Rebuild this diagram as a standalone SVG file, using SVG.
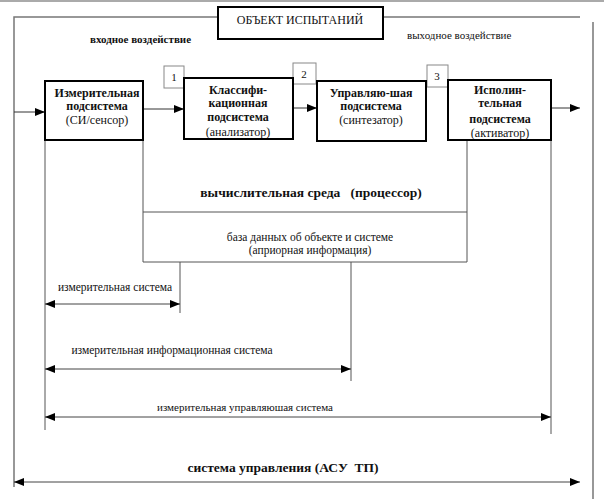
<svg xmlns="http://www.w3.org/2000/svg" width="604" height="499" viewBox="0 0 604 499">
<style>
text{font-family:"Liberation Serif","Times New Roman",serif;fill:#111}
.b{font-weight:bold}
.c{text-anchor:middle}
.blk{fill:#fff;stroke:#000;stroke-width:2}
.num{fill:#fff;stroke:#888;stroke-width:1}
.frame{fill:none;stroke:#777;stroke-width:1.5}
.ln{fill:none;stroke:#555;stroke-width:1}
.arr{fill:none;stroke:#333;stroke-width:1;marker-end:url(#ah)}
.dim{fill:none;stroke:#444;stroke-width:1;marker-start:url(#ah2);marker-end:url(#ah)}
</style>
<defs>
<marker id="ah" viewBox="0 0 10 10" refX="10" refY="5" markerWidth="10" markerHeight="10" markerUnits="userSpaceOnUse" orient="auto"><path d="M0,1 L10,5 L0,9 Z" fill="#000"/></marker>
<marker id="ah2" viewBox="0 0 10 10" refX="0" refY="5" markerWidth="10" markerHeight="10" markerUnits="userSpaceOnUse" orient="auto"><path d="M10,1 L0,5 L10,9 Z" fill="#000"/></marker>
<clipPath id="c2"><rect x="184" y="78" width="109" height="60"/></clipPath>
<clipPath id="c4"><rect x="448" y="80" width="103" height="59"/></clipPath>
</defs>
<rect x="0" y="0" width="604" height="2" fill="#aaa"/>
<g id="frame">
<path class="frame" d="M218,17 H14 V487 M383,17 H580 M593,22 V499"/>
</g>
<g id="connectors">
<path class="ln" d="M45,140 V430 M143,140 V262 M467,140 V262 M551,140 V434 M143,212 H467 M143,262 H467 M180,262 V313 M351,262 V381"/>
<path class="arr" d="M14,112 H45"/>
<path class="arr" d="M143,109 H184"/>
<path class="arr" d="M293,108 H317"/>
<path class="arr" d="M551,108 H580"/>
<path class="dim" d="M45,304 H180"/>
<path class="dim" d="M45,369 H351"/>
<path class="dim" d="M45,417 H551"/>
<path class="dim" d="M14,482 H580"/>
</g>
<g id="object">
<rect class="blk" x="218" y="7" width="165" height="32"/>
<text class="c" x="300" y="24" font-size="12">ОБЪЕКТ ИСПЫТАНИЙ</text>
</g>
<text class="b" x="90" y="43" font-size="11">входное воздействие</text>
<text x="407" y="39" font-size="11">выходное воздействие</text>
<g id="n1">
<rect class="num" x="164" y="66" width="20" height="22"/>
<text class="c" x="174" y="81" font-size="11">1</text>
</g>
<g id="n2">
<rect class="num" x="293" y="63" width="23" height="21"/>
<text class="c" x="304" y="78" font-size="11">2</text>
</g>
<g id="n3">
<rect class="num" x="427" y="65" width="21" height="22"/>
<text class="c" x="437" y="80" font-size="11">3</text>
</g>
<g id="block1">
<rect class="blk" x="45" y="81" width="98" height="59"/>
<text class="c b" x="97" y="97" font-size="12">Измерительная</text>
<text class="c b" x="97" y="110" font-size="12">подсистема</text>
<text class="c" x="97" y="124" font-size="12">(СИ/сенсор)</text>
</g>
<g id="block2">
<rect class="blk" x="184" y="78" width="109" height="61"/>
<text class="c b" x="238" y="94" font-size="12">Классифи-</text>
<text class="c b" x="238" y="107" font-size="12">кационная</text>
<text class="c b" x="238" y="121" font-size="12">подсистема</text>
<text class="c" x="238" y="136" font-size="12" clip-path="url(#c2)">(анализатор)</text>
</g>
<g id="block3">
<rect class="blk" x="317" y="81" width="109" height="60"/>
<text class="c b" x="371" y="97" font-size="12">Управляю-шая</text>
<text class="c b" x="371" y="110" font-size="12">подсистема</text>
<text class="c" x="371" y="124" font-size="12">(синтезатор)</text>
</g>
<g id="block4">
<rect class="blk" x="448" y="80" width="103" height="60"/>
<text class="c b" x="500" y="94" font-size="12">Исполин-</text>
<text class="c b" x="500" y="107" font-size="12">тельная</text>
<text class="c b" x="500" y="123" font-size="12">подсистема</text>
<text class="c" x="500" y="137" font-size="12" clip-path="url(#c4)">(активатор)</text>
</g>
<g id="processor">
<text class="c b" x="311" y="197" font-size="13.5" xml:space="preserve">вычислительная среда   (процессор)</text>
</g>
<g id="database">
<text class="c" x="310" y="241" font-size="11.5">база данных об объекте и системе</text>
<text class="c" x="310" y="254" font-size="11.5">(априорная информация)</text>
</g>
<text class="c" x="115" y="291" font-size="11.5">измерительная система</text>
<text class="c" x="172" y="354" font-size="11.5">измерительная информационная система</text>
<text class="c" x="245" y="411" font-size="11">измерительная управляюшая система</text>
<text class="c b" x="283" y="472" font-size="13.5" xml:space="preserve">система управления (АСУ  ТП)</text>
</svg>
